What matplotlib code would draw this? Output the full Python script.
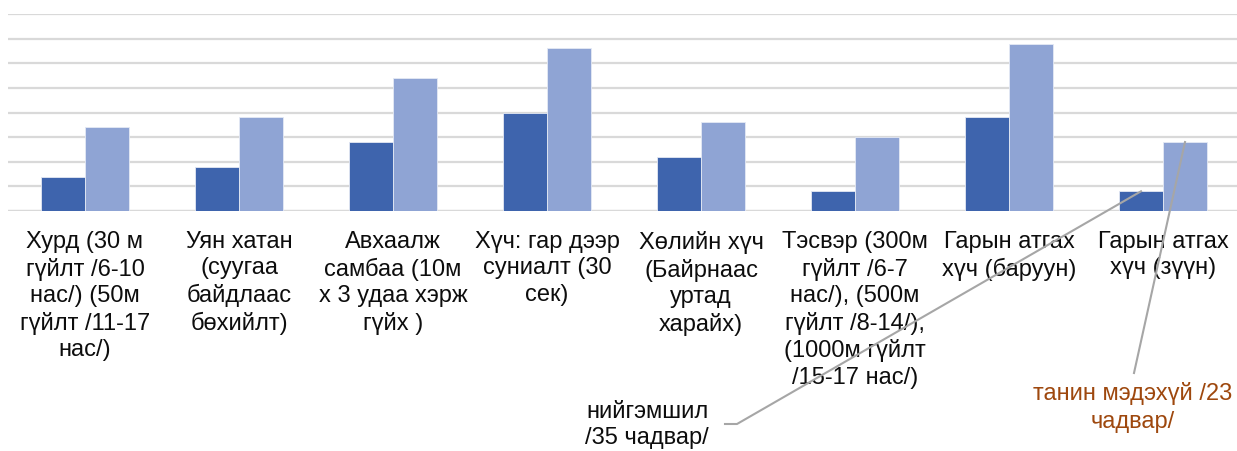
import numpy as np
import matplotlib.pyplot as plt
from matplotlib.lines import Line2D
from matplotlib.transforms import blended_transform_factory

plt.rcParams['font.family'] = ['Liberation Sans', 'DejaVu Sans']

# Categories (wrapped as in the original chart)
categories = [
    "Хурд (30 м\nгүйлт /6-10\nнас/) (50м\nгүйлт /11-17\nнас/)",
    "Уян хатан\n(суугаа\nбайдлаас\nбөхийлт)",
    "Авхаалж\nсамбаа (10м\nх 3 удаа хэрж\nгүйх )",
    "Хүч: гар дээр\nсуниалт (30\nсек)",
    "Хөлийн хүч\n(Байрнаас\nуртад\nхарайх)",
    "Тэсвэр (300м\nгүйлт /6-7\nнас/), (500м\nгүйлт /8-14/),\n(1000м гүйлт\n/15-17 нас/)",
    "Гарын атгах\nхүч (баруун)",
    "Гарын атгах\nхүч (зүүн)",
]
# Values (gridline units, no axis labels shown)
series_social = [1.4, 1.8, 2.8, 4.0, 2.2, 0.8, 3.8, 0.8]     # нийгэмшил /35 чадвар/
series_cognitive = [3.4, 3.8, 5.4, 6.6, 3.6, 3.0, 6.8, 2.8]  # танин мэдэхүй /23 чадвар/

W, H = 1237, 451
fig = plt.figure(figsize=(W / 100, H / 100), dpi=100)
ax = fig.add_axes([8 / W, (H - 211) / H, 1232 / W, 197 / H])

x = np.arange(len(categories))
bw = 44 / 154
dark = '#3E64AD'
light = '#8FA4D4'
ax.bar(x - bw / 2, series_social, bw, color=dark, edgecolor='#E4E9F4', linewidth=0.6, zorder=3)
ax.bar(x + bw / 2, series_cognitive, bw, color=light, edgecolor='#E4E9F4', linewidth=0.6, zorder=3)

ax.set_xlim(-0.5, len(categories) - 0.5)
ax.set_ylim(0, 8)
ax.set_yticks(np.arange(0, 9, 1))
ax.yaxis.grid(True, color='#D9D9D9', linewidth=1.6, zorder=0)
ax.set_axisbelow(True)
ax.tick_params(left=False, bottom=False, labelleft=False, labelbottom=False)
for s in ax.spines.values():
    s.set_visible(False)
ax.axhline(0, color='#D9D9D9', linewidth=1.6, zorder=1)

# category labels under the axis
trans = blended_transform_factory(ax.transData, fig.transFigure)
for xi, lab in zip(x, categories):
    ax.text(xi, 1 - 231 / H, lab, transform=trans, ha='center', va='top',
            fontsize=17, linespacing=1.26, color='#0D0D0D')

# data callouts
fig.text(647 / W, 1 - 401 / H, "нийгэмшил\n/35 чадвар/", ha='center', va='top',
         fontsize=17, linespacing=1.24, color='#0D0D0D')
fig.text(1133 / W, 1 - 382 / H, "танин мэдэхүй /23\nчадвар/", ha='center', va='top',
         fontsize=17, linespacing=1.34, color='#9E480E')

fig.canvas.draw()
p1 = ax.transData.transform((x[-1] - bw / 2, series_social[-1]))
p2 = ax.transData.transform((x[-1] + bw / 2, series_cognitive[-1]))
lc = '#A6A6A6'
fig.add_artist(Line2D([725, 737, p1[0]], [H - 424, H - 424, p1[1]], transform=None,
                      color=lc, linewidth=1.5, zorder=5))
fig.add_artist(Line2D([1134, p2[0]], [H - 373, p2[1]], transform=None,
                      color=lc, linewidth=1.5, zorder=5))

fig.savefig('out.png', dpi=100)
